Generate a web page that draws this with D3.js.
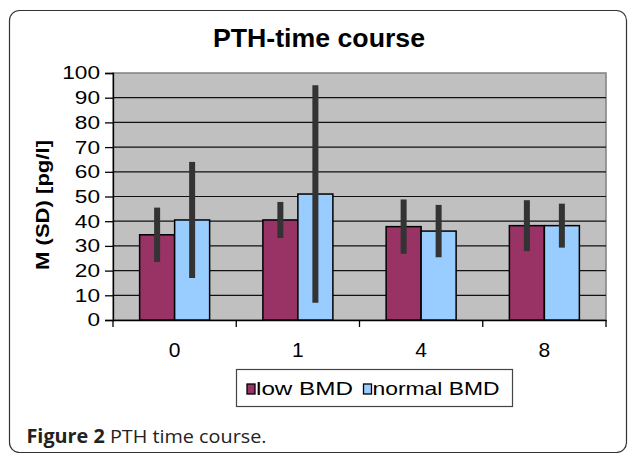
<!DOCTYPE html>
<html>
<head>
<meta charset="utf-8">
<script src="https://cdn.jsdelivr.net/npm/d3@7"></script>
<style>
  body { margin: 0; background: white; }
  text { font-family: "Liberation Sans", Arial, sans-serif; }
</style>
</head>
<body>
<div class="board"></div>
<script>
var width = 629, height = 453

var margin = { top: 73, right: 23, bottom: 133, left: 113 }

// chart data
var weeks = ["0", "1", "4", "8"]
var series = ["low BMD", "normal BMD"]
var lowMean = [34.5, 40.5, 37.8, 38.2]
var lowSD = [11, 7.3, 11, 10.3]
var normalMean = [40.5, 51, 36, 38.2]
var normalSD = [23.5, 44, 10.6, 8.9]
var yTicks = [0, 10, 20, 30, 40, 50, 60, 70, 80, 90, 100]

SERIES_COLORS = {
    "low BMD": "#993366",
    "normal BMD": "#99CCFF",
}

BAR_WIDTH = 35
ERR_WIDTH = 6

var svg = d3.select(".board")
    .append("svg")
    .attr("width", width)
    .attr("height", height)

// outer figure frame
svg.append("rect")
    .attr("x", 9.5)
    .attr("y", 10.5)
    .attr("width", 617)
    .attr("height", 442)
    .attr("rx", 10)
    .attr("ry", 10)
    .attr("fill", "none")
    .attr("stroke", "#333")
    .attr("stroke-width", 1.2)

var plotW = width - margin.left - margin.right,
    plotH = height - margin.top - margin.bottom

let xScale = d3.scaleBand()
    .domain(weeks)
    .range([margin.left, margin.left + plotW])

let yScale = d3.scaleLinear()
    .domain([0, 100])
    .range([margin.top + plotH, margin.top])

// plot background
svg.append("rect")
    .attr("x", margin.left)
    .attr("y", margin.top)
    .attr("width", plotW)
    .attr("height", plotH)
    .attr("fill", "#C0C0C0")
    .attr("stroke", "#808080")
    .attr("stroke-width", 1.5)

// gridlines
svg.selectAll(".grid")
    .data(yTicks.filter(d => d > 0 && d < 100))
    .enter()
    .append("line")
    .classed("grid", true)
    .attr("x1", margin.left)
    .attr("x2", margin.left + plotW)
    .attr("y1", d => yScale(d))
    .attr("y2", d => yScale(d))
    .attr("stroke", "#111")
    .attr("stroke-width", 1.2)

// y axis
var yAxis = svg.append("g")
    .attr("transform", `translate(${margin.left},0)`)
    .call(d3.axisLeft(yScale).tickValues(yTicks).tickSize(8).tickPadding(5))
yAxis.select(".domain").attr("stroke", "#000").attr("stroke-width", 1.3)
yAxis.selectAll(".tick line").attr("stroke", "#000").attr("stroke-width", 1.3)
yAxis.selectAll(".tick text")
    .attr("font-size", 18.5)
    .attr("fill", "#000")
    .attr("font-family", "Liberation Sans, Arial, sans-serif")
    .attr("textLength", d => String(d).length * 12.6)
    .attr("lengthAdjust", "spacingAndGlyphs")

// x axis
var xAxis = svg.append("g")
    .attr("transform", `translate(0,${margin.top + plotH})`)
    .call(d3.axisBottom(xScale).tickSize(0).tickPadding(22))
xAxis.select(".domain").attr("stroke", "#000").attr("stroke-width", 1.3)
xAxis.selectAll(".tick text")
    .attr("font-size", 21)
    .attr("fill", "#000")
    .attr("font-family", "Liberation Sans, Arial, sans-serif")

// x tick marks at band boundaries
svg.selectAll(".xTick")
    .data(weeks.concat(["end"]))
    .enter()
    .append("line")
    .classed("xTick", true)
    .attr("x1", (d, i) => margin.left + i * xScale.step())
    .attr("x2", (d, i) => margin.left + i * xScale.step())
    .attr("y1", margin.top + plotH)
    .attr("y2", margin.top + plotH + 7)
    .attr("stroke", "#000")
    .attr("stroke-width", 1.3)

var bars = []
weeks.forEach((w, i) => {
    bars.push({ week: w, series: "low BMD", mean: lowMean[i], sd: lowSD[i], offset: -1 })
    bars.push({ week: w, series: "normal BMD", mean: normalMean[i], sd: normalSD[i], offset: 0 })
})

var center = d => xScale(d.week) + xScale.bandwidth() / 2

svg.selectAll(".bar")
    .data(bars)
    .enter()
    .append("rect")
    .classed("bar", true)
    .attr("x", d => center(d) + d.offset * BAR_WIDTH)
    .attr("y", d => yScale(d.mean))
    .attr("width", BAR_WIDTH)
    .attr("height", d => yScale(0) - yScale(d.mean))
    .attr("fill", d => SERIES_COLORS[d.series])
    .attr("stroke", "#000")
    .attr("stroke-width", 1.5)

svg.selectAll(".err")
    .data(bars)
    .enter()
    .append("line")
    .classed("err", true)
    .attr("x1", d => center(d) + d.offset * BAR_WIDTH + BAR_WIDTH / 2)
    .attr("x2", d => center(d) + d.offset * BAR_WIDTH + BAR_WIDTH / 2)
    .attr("y1", d => yScale(d.mean + d.sd))
    .attr("y2", d => yScale(d.mean - d.sd))
    .attr("stroke", "#333")
    .attr("stroke-width", ERR_WIDTH)

// title
svg.append("text")
    .attr("x", 319)
    .attr("y", 46.5)
    .attr("text-anchor", "middle")
    .attr("font-size", 25)
    .attr("font-weight", "bold")
    .attr("textLength", 212)
    .attr("lengthAdjust", "spacingAndGlyphs")
    .text("PTH-time course")

// y label
svg.append("text")
    .attr("transform", `translate(49,205) rotate(-90)`)
    .attr("text-anchor", "middle")
    .attr("font-size", 18)
    .attr("font-weight", "bold")
    .attr("textLength", 130)
    .attr("lengthAdjust", "spacingAndGlyphs")
    .text("M (SD) [pg/l]")

// legend
var legend = svg.append("g")
legend.append("rect")
    .attr("x", 236.5)
    .attr("y", 369.5)
    .attr("width", 276)
    .attr("height", 37)
    .attr("fill", "white")
    .attr("stroke", "#444")
    .attr("stroke-width", 1.2)

var legendX = [247, 363.5]
var legendTextW = [97, 127]
legend.selectAll(".legendFigure")
    .data(series)
    .enter()
    .append("rect")
    .classed("legendFigure", true)
    .attr("x", (d, i) => legendX[i])
    .attr("y", 384)
    .attr("width", 8)
    .attr("height", 10)
    .attr("fill", d => SERIES_COLORS[d])
    .attr("stroke", "#000")
    .attr("stroke-width", 1.3)

legend.selectAll(".legendText")
    .data(series)
    .enter()
    .append("text")
    .classed("legendText", true)
    .attr("x", (d, i) => legendX[i] + 9)
    .attr("y", 395)
    .attr("font-size", 18.5)
    .attr("textLength", (d, i) => legendTextW[i])
    .attr("lengthAdjust", "spacingAndGlyphs")
    .text(d => d)

// caption
var caption = svg.append("text")
    .attr("x", 26.5)
    .attr("y", 443)
    .attr("font-size", 19)
    .attr("fill", "#222")
    .attr("textLength", 240)
    .attr("lengthAdjust", "spacingAndGlyphs")
    .style("font-family", "'Open Sans', 'Noto Sans', sans-serif")
caption.append("tspan").attr("font-weight", "bold").text("Figure 2")
caption.append("tspan").text(" PTH time course.")
</script>
</body>
</html>
